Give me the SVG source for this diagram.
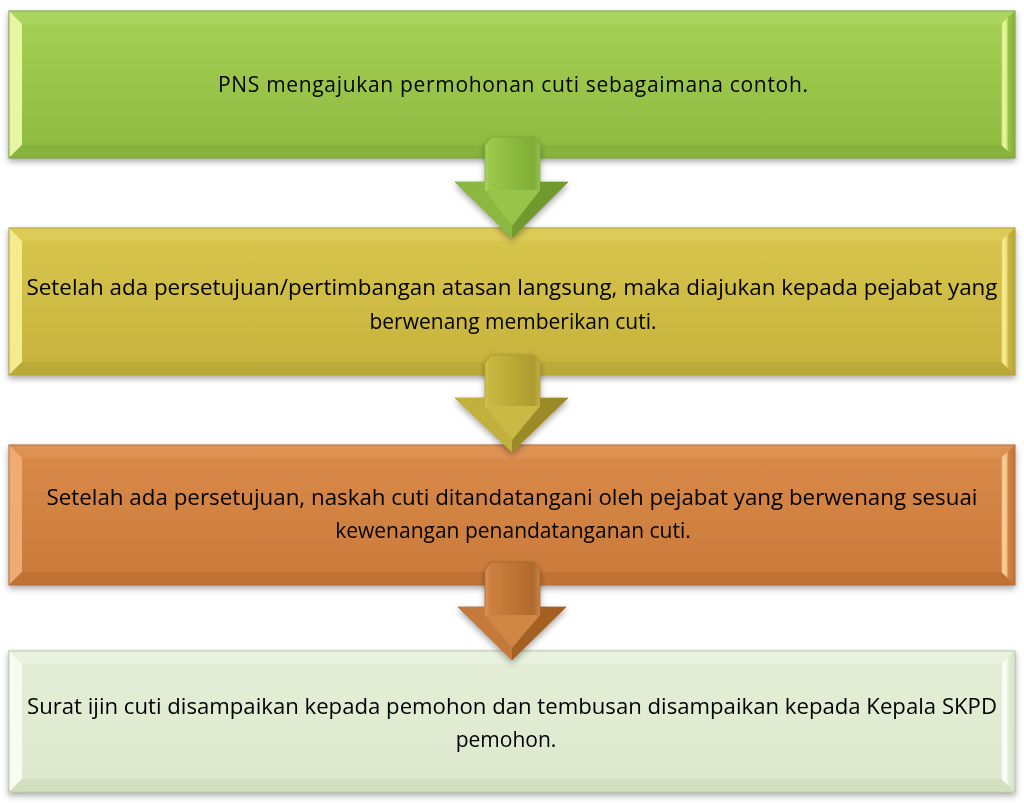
<svg xmlns="http://www.w3.org/2000/svg" width="1024" height="805" viewBox="0 0 1024 805">
<defs>
<filter id="sh" x="-5%" y="-10%" width="110%" height="130%">
<feDropShadow dx="0" dy="3" stdDeviation="3" flood-color="#000" flood-opacity="0.35"/>
</filter>
<linearGradient id="g1" x1="0" y1="0" x2="0" y2="1"><stop offset="0" stop-color="#a6d156"/><stop offset="1" stop-color="#8db93f"/></linearGradient>
<linearGradient id="g2" x1="0" y1="0" x2="0" y2="1"><stop offset="0" stop-color="#d8c64d"/><stop offset="1" stop-color="#c6b23c"/></linearGradient>
<linearGradient id="g3" x1="0" y1="0" x2="0" y2="1"><stop offset="0" stop-color="#da8b4a"/><stop offset="1" stop-color="#c97a3a"/></linearGradient>
<linearGradient id="g4" x1="0" y1="0" x2="0" y2="1"><stop offset="0" stop-color="#e5efd8"/><stop offset="1" stop-color="#dce8cc"/></linearGradient>
<linearGradient id="r1" x1="0" y1="0" x2="1" y2="0"><stop offset="0" stop-color="#9cc84c"/><stop offset="0.15" stop-color="#e8fa9e"/><stop offset="0.4" stop-color="#d8f088"/><stop offset="0.55" stop-color="#96c244"/><stop offset="1" stop-color="#86b03c"/></linearGradient>
<linearGradient id="r2" x1="0" y1="0" x2="1" y2="0"><stop offset="0" stop-color="#cfbd46"/><stop offset="0.15" stop-color="#faf098"/><stop offset="0.4" stop-color="#eee07a"/><stop offset="0.55" stop-color="#c8b640"/><stop offset="1" stop-color="#b8a63a"/></linearGradient>
<linearGradient id="r3" x1="0" y1="0" x2="1" y2="0"><stop offset="0" stop-color="#d28444"/><stop offset="0.15" stop-color="#fcd49e"/><stop offset="0.4" stop-color="#f4c28a"/><stop offset="0.55" stop-color="#cf8242"/><stop offset="1" stop-color="#c07438"/></linearGradient>
<linearGradient id="r4" x1="0" y1="0" x2="1" y2="0"><stop offset="0" stop-color="#e0ebd2"/><stop offset="0.15" stop-color="#ffffff"/><stop offset="0.4" stop-color="#f8fcf2"/><stop offset="0.55" stop-color="#e2edd6"/><stop offset="1" stop-color="#d6e3c6"/></linearGradient>
<linearGradient id="s1" x1="0" y1="0" x2="1" y2="0"><stop offset="0" stop-color="#b8dc62"/><stop offset="0.15" stop-color="#e4f7a0"/><stop offset="0.3" stop-color="#9cc84a"/><stop offset="0.7" stop-color="#7fae36"/><stop offset="0.85" stop-color="#c4e47a"/><stop offset="1" stop-color="#88b83c"/></linearGradient>
<linearGradient id="s2" x1="0" y1="0" x2="1" y2="0"><stop offset="0" stop-color="#d6c650"/><stop offset="0.15" stop-color="#f6ec90"/><stop offset="0.3" stop-color="#c9b840"/><stop offset="0.7" stop-color="#ad9c2e"/><stop offset="0.85" stop-color="#e6d86e"/><stop offset="1" stop-color="#bca936"/></linearGradient>
<linearGradient id="s3" x1="0" y1="0" x2="1" y2="0"><stop offset="0" stop-color="#d88c4c"/><stop offset="0.15" stop-color="#f5c28c"/><stop offset="0.3" stop-color="#cd8040"/><stop offset="0.7" stop-color="#b06a2c"/><stop offset="0.85" stop-color="#eab07a"/><stop offset="1" stop-color="#c07636"/></linearGradient>
<style>
.t{font-family:"Open Sans","Noto Sans","Liberation Sans",sans-serif;font-size:21px;fill:#000;text-anchor:middle}
.o1{stroke:#6f9433;stroke-width:1}
.o2{stroke:#a29232;stroke-width:1}
.o3{stroke:#a8642e;stroke-width:1}
.o4{stroke:#a8b894;stroke-width:1}
</style>
</defs>

<g id="node1" filter="url(#sh)">
<rect x="9" y="11" width="1006" height="147" fill="url(#g1)" class="o1"/>
<polygon points="9.5,11.5 1014.5,11.5 1001,24 22,24" fill="#acd55e"/>
<polygon points="9.5,11.5 22,24 22,145 9.5,157.5" fill="#e6f6a2"/>
<polygon points="1014.5,11.5 1001,24 1001,145 1014.5,157.5" fill="url(#r1)"/>
<polygon points="9.5,157.5 22,145 1001,145 1014.5,157.5" fill="#87b23c"/>
<text class="t" x="513" y="92" textLength="590" lengthAdjust="spacing">PNS mengajukan permohonan cuti sebagaimana contoh.</text>
</g>

<g id="node2" filter="url(#sh)">
<rect x="9" y="228" width="1006" height="147" fill="url(#g2)" class="o2"/>
<polygon points="9.5,228.5 1014.5,228.5 1001,241 22,241" fill="#dccb56"/>
<polygon points="9.5,228.5 22,241 22,362 9.5,374.5" fill="#f4ea8e"/>
<polygon points="1014.5,228.5 1001,241 1001,362 1014.5,374.5" fill="url(#r2)"/>
<polygon points="9.5,374.5 22,362 1001,362 1014.5,374.5" fill="#bcaa38"/>
<text class="t" x="512" y="295" textLength="971" lengthAdjust="spacingAndGlyphs">Setelah ada persetujuan/pertimbangan atasan langsung, maka diajukan kepada pejabat yang</text>
<text class="t" x="513" y="329">berwenang memberikan cuti.</text>
</g>

<g id="node3" filter="url(#sh)">
<rect x="9" y="445" width="1006" height="140" fill="url(#g3)" class="o3"/>
<polygon points="9.5,445.5 1014.5,445.5 1001,458 22,458" fill="#dd9252"/>
<polygon points="9.5,445.5 22,458 22,572 9.5,584.5" fill="#eeac72"/>
<polygon points="1014.5,445.5 1001,458 1001,572 1014.5,584.5" fill="url(#r3)"/>
<polygon points="9.5,584.5 22,572 1001,572 1014.5,584.5" fill="#c07234"/>
<text class="t" x="512" y="505" textLength="931" lengthAdjust="spacingAndGlyphs">Setelah ada persetujuan, naskah cuti ditandatangani oleh pejabat yang berwenang sesuai</text>
<text class="t" x="513" y="538">kewenangan penandatanganan cuti.</text>
</g>

<g id="node4" filter="url(#sh)">
<rect x="9" y="651" width="1006" height="141" fill="url(#g4)" class="o4"/>
<polygon points="9.5,651.5 1014.5,651.5 1001,664 22,664" fill="#e9f2de"/>
<polygon points="9.5,651.5 22,664 22,779 9.5,791.5" fill="#f8fcf0"/>
<polygon points="1014.5,651.5 1001,664 1001,779 1014.5,791.5" fill="url(#r4)"/>
<polygon points="9.5,791.5 22,779 1001,779 1014.5,791.5" fill="#d2dfc0"/>
<text class="t" x="512" y="714" textLength="970" lengthAdjust="spacingAndGlyphs">Surat ijin cuti disampaikan kepada pemohon dan tembusan disampaikan kepada Kepala SKPD</text>
<text class="t" x="506" y="747">pemohon.</text>
</g>

<g id="connectors">
<g id="arrow1" filter="url(#sh)">
<polygon points="491,137 534,137 540,145 540,182 568,182 512,238 455,182 485,182 485,145" fill="url(#s1)" stroke="#7fa83a" stroke-width="0.8"/>
<polygon points="455,182 485,182 485,190 512,226 512,238" fill="#8bb840"/>
<polygon points="568,182 540,182 540,190 512,226 512,238" fill="#6f9a2e"/>
<polygon points="485,190 540,190 512,226" fill="#98c448"/>
</g>
<g id="arrow2" filter="url(#sh)">
<polygon points="491,355 534,355 540,363 540,398 568,398 512,452 455,398 485,398 485,363" fill="url(#s2)" stroke="#a89630" stroke-width="0.8"/>
<polygon points="455,398 485,398 485,406 512,440 512,452" fill="#c2b03c"/>
<polygon points="568,398 540,398 540,406 512,440 512,452" fill="#9c8a26"/>
<polygon points="485,406 540,406 512,440" fill="#cbb944"/>
</g>
<g id="arrow3" filter="url(#sh)">
<polygon points="491,562 534,562 540,570 540,607 566,607 512,660 458,607 485,607 485,570" fill="url(#s3)" stroke="#a8622a" stroke-width="0.8"/>
<polygon points="458,607 485,607 485,615 512,648 512,660" fill="#c47a3c"/>
<polygon points="566,607 540,607 540,615 512,648 512,660" fill="#a45e24"/>
<polygon points="485,615 540,615 512,648" fill="#d08644"/>
</g>
</g>
</svg>
